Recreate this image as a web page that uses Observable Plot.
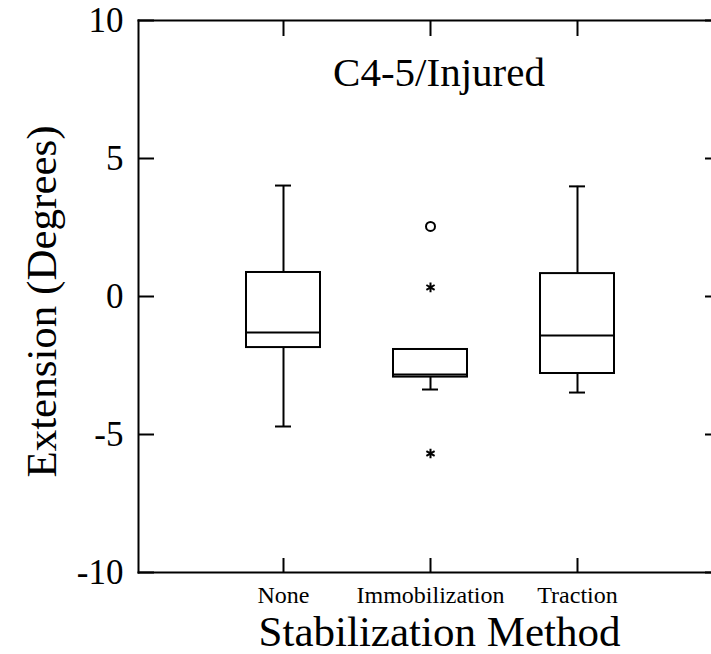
<!DOCTYPE html>
<html>
<head>
<meta charset="utf-8">
<script src="https://cdn.jsdelivr.net/npm/d3@7"></script>
<script src="https://cdn.jsdelivr.net/npm/@observablehq/plot@0.6"></script>
<style>
  html, body { margin: 0; padding: 0; background: #fff; }
</style>
</head>
<body>
<div id="chart"></div>
<script>
// ---- data ----
const categories = ["None", "Immobilization", "Traction"];
const mins    = [-4.71, -3.37, -3.48];
const q1s     = [-1.85, -2.92, -2.79];
const medians = [-1.30, -2.83, -1.41];
const q3s     = [0.87, -1.92, 0.83];
const maxs    = [4.02, -1.92, 3.99];

const outlierCategory = ["Immobilization", "Immobilization", "Immobilization"];
const outlierValue    = [2.54, 0.33, -5.69];
const outlierKind     = ["outside", "far", "far"];

const yTicks = [-10, -5, 0, 5, 10];
const titleText = "C4-5/Injured";
const xLabel = "Stabilization Method";
const yLabel = "Extension (Degrees)";

// ---- tables built from arrays ----
const boxes = categories.map((c, i) => ({
  cat: c, min: mins[i], q1: q1s[i], med: medians[i], q3: q3s[i], max: maxs[i]
}));
const outliers = outlierValue.map((v, i) => ({cat: outlierCategory[i], value: v, kind: outlierKind[i]}));

const W = 711, H = 654, ML = 138, MR = 0, MT = 20, MB = 82;
const ink = "#000";
const fmt = d => String(d); // plain hyphen-minus like the reference
const innerW = W - ML - MR, innerH = H - MT - MB;

const chart = Plot.plot({
  width: W,
  height: H,
  marginLeft: ML,
  marginRight: MR,
  marginTop: MT,
  marginBottom: MB,
  style: {fontFamily: "'Liberation Serif', 'Times New Roman', serif", background: "#fff", color: ink},
  x: {type: "band", domain: categories, range: [209.5, 650.5], paddingInner: 0.5, paddingOuter: 0.25},
  y: {domain: [-10, 10]},
  symbol: {domain: ["outside", "far"], range: ["circle", "asterisk"]},
  marks: [
    // frame sides (no right edge visible)
    Plot.frame({anchor: "left", stroke: ink, strokeWidth: 2}),
    Plot.frame({anchor: "top", stroke: ink, strokeWidth: 2}),
    Plot.frame({anchor: "bottom", stroke: ink, strokeWidth: 2}),
    // tick labels
    Plot.axisY({ticks: yTicks, tickFormat: fmt, anchor: "left", tickSize: 0, tickPadding: 15, fontSize: 35, fill: ink, label: null}),
    Plot.axisX({anchor: "bottom", tickSize: 0, tickPadding: 13, fontSize: 24, fill: ink, label: null}),
    // whiskers
    Plot.ruleX(boxes, {x: "cat", y1: "q3", y2: "max", stroke: ink, strokeWidth: 2}),
    Plot.ruleX(boxes, {x: "cat", y1: "min", y2: "q1", stroke: ink, strokeWidth: 2}),
    Plot.tickY(boxes.filter(d => d.max > d.q3), {x: "cat", y: "max", stroke: ink, strokeWidth: 2, insetLeft: 29, insetRight: 29}),
    Plot.tickY(boxes, {x: "cat", y: "min", stroke: ink, strokeWidth: 2, insetLeft: 29, insetRight: 29}),
    // boxes
    Plot.barY(boxes, {x: "cat", y1: "q1", y2: "q3", fill: "#fff", stroke: ink, strokeWidth: 2}),
    Plot.tickY(boxes, {x: "cat", y: "med", stroke: ink, strokeWidth: 2}),
    // outliers
    Plot.dot(outliers, {x: "cat", y: "value", symbol: "kind", r: 4.5, stroke: ink, strokeWidth: 2, fill: "none"}),
    // texts
    Plot.text([titleText], {frameAnchor: "top", lineAnchor: "bottom", dx: 14, dy: 65, fontSize: 41, fill: ink}),
    Plot.text([xLabel], {frameAnchor: "bottom", lineAnchor: "bottom", dx: 14.5, dy: 73, fontSize: 43, fill: ink}),
    Plot.text([yLabel], {frameAnchor: "left", textAnchor: "middle", rotate: -90, dx: -96, dy: 5, fontSize: 43, fill: ink}),
    // inward ticks (drawn last, on top)
    Plot.ruleY(yTicks, {y: d => d, insetRight: innerW - 16, stroke: ink, strokeWidth: 2}),
    Plot.ruleY(yTicks, {y: d => d, insetLeft: innerW - 6, stroke: ink, strokeWidth: 2}),
    Plot.ruleX(categories, {x: d => d, insetBottom: innerH - 16, stroke: ink, strokeWidth: 2}),
    Plot.ruleX(categories, {x: d => d, insetTop: innerH - 14, stroke: ink, strokeWidth: 2})
  ]
});
document.getElementById("chart").appendChild(chart);
</script>
</body>
</html>
